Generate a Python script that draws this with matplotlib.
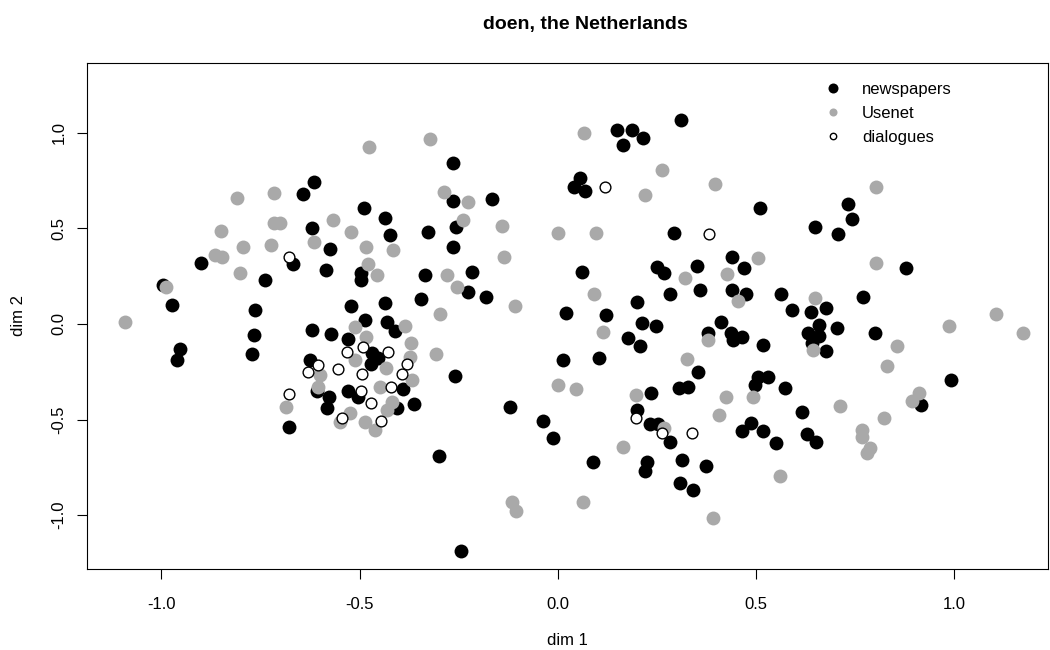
import matplotlib
matplotlib.use("Agg")
import matplotlib.pyplot as plt
from matplotlib.lines import Line2D

plt.rcParams['font.family'] = ['Liberation Sans', 'DejaVu Sans']

# newspapers (black)
news_x = [-0.614, -0.642, -0.621, -0.264, -0.264, -0.166, -0.489, -0.436, -0.257, -0.328,
          -0.423, 0.311, 0.150, 0.188, 0.214, 0.165, 0.056, 0.041, 0.069, 0.510,
          0.293, 0.650, 0.732, 0.742, 0.708, -0.900, -0.669, -0.738, -0.995, -0.974,
          -0.763, -0.621, -0.766, -0.953, -0.961, -0.772, -0.625, -0.608, -0.574, -0.585,
          -0.572, -0.577, -0.265, -0.496, -0.496, -0.335, -0.217, -0.226, -0.182, -0.345,
          -0.436, -0.521, 0.020, -0.486, -0.430, -0.410, -0.530, -0.468, -0.471, -0.453,
          -0.259, 0.013, -0.390, -0.530, -0.503, -0.362, -0.120, -0.406, -0.036, -0.011,
          -0.299, -0.244, -0.678, -0.581, 0.061, 0.250, 0.269, 0.351, 0.439, 0.470,
          0.283, 0.359, 0.439, 0.475, 0.563, 0.590, 0.638, 0.199, 0.121, 0.213,
          0.247, 0.411, 0.380, 0.436, 0.464, 0.443, 0.519, 0.631, 0.641, 0.177,
          0.208, 0.103, 0.353, 0.307, 0.328, 0.498, 0.506, 0.531, 0.573, 0.235,
          0.199, 0.233, 0.254, 0.283, 0.488, 0.464, 0.519, 0.550, 0.616, 0.628,
          0.652, 0.090, 0.225, 0.220, 0.314, 0.373, 0.309, 0.341, 0.879, 0.770,
          0.676, 0.659, 0.659, 0.704, 0.800, 0.677, 0.991, 0.917]
news_y = [0.742, 0.679, 0.503, 0.840, 0.644, 0.653, 0.605, 0.552, 0.505, 0.481,
          0.465, 1.065, 1.014, 1.014, 0.974, 0.936, 0.761, 0.716, 0.697, 0.608,
          0.475, 0.507, 0.627, 0.549, 0.468, 0.320, 0.312, 0.228, 0.203, 0.099,
          0.071, -0.032, -0.058, -0.131, -0.189, -0.159, -0.189, -0.351, 0.392, 0.283,
          -0.054, -0.381, 0.401, 0.265, 0.230, 0.256, 0.270, 0.168, 0.142, 0.130,
          0.111, 0.094, 0.055, 0.019, 0.012, -0.037, -0.081, -0.151, -0.211, -0.180,
          -0.271, -0.189, -0.342, -0.349, -0.381, -0.419, -0.432, -0.441, -0.508, -0.598,
          -0.692, -1.188, -0.541, -0.441, 0.270, 0.299, 0.265, 0.304, 0.351, 0.294,
          0.158, 0.176, 0.176, 0.155, 0.155, 0.071, 0.061, 0.115, 0.047, 0.006,
          -0.009, 0.012, -0.049, -0.049, -0.067, -0.084, -0.110, -0.049, -0.101, -0.072,
          -0.114, -0.177, -0.253, -0.337, -0.328, -0.320, -0.276, -0.279, -0.337, -0.363,
          -0.450, -0.525, -0.525, -0.616, -0.520, -0.560, -0.560, -0.621, -0.462, -0.577,
          -0.619, -0.724, -0.721, -0.768, -0.712, -0.742, -0.834, -0.869, 0.294, 0.142,
          0.082, -0.006, -0.062, -0.020, -0.049, -0.142, -0.293, -0.424]

# Usenet (grey)
usenet_x = [-0.808, -0.717, -0.717, -0.701, -0.850, -0.567, -0.476, -0.321, -0.288, -0.226,
            -0.240, -0.141, -0.521, 0.000, 0.066, 0.262, 0.220, 0.397, 0.096, 0.802,
            -0.795, -0.724, -0.615, -0.865, -0.848, -0.801, -0.989, -1.091, -0.600, -0.604,
            -0.686, -0.484, -0.415, -0.135, -0.478, -0.455, -0.280, -0.253, -0.109, -0.297,
            -0.511, -0.385, -0.484, -0.370, -0.308, -0.373, -0.511, -0.434, -0.367, 0.000,
            0.046, -0.448, -0.419, -0.524, -0.549, -0.486, -0.461, -0.431, -0.116, -0.106,
            0.321, 0.506, 0.426, 0.092, 0.454, 0.650, 0.378, 0.114, 0.325, 0.645,
            0.197, 0.425, 0.492, 0.269, 0.408, 0.164, 0.561, 0.063, 0.392, 0.803,
            0.855, 0.830, 0.987, 1.105, 1.173, 0.911, 0.894, 0.712, 0.824, 0.768,
            0.768, 0.780, 0.788]
usenet_y = [0.658, 0.683, 0.526, 0.526, 0.486, 0.543, 0.927, 0.965, 0.688, 0.636,
            0.543, 0.512, 0.482, 0.473, 0.997, 0.805, 0.673, 0.733, 0.475, 0.714,
            0.401, 0.413, 0.427, 0.360, 0.348, 0.265, 0.191, 0.012, -0.267, -0.328,
            -0.435, 0.401, 0.387, 0.348, 0.313, 0.256, 0.256, 0.191, 0.094, 0.052,
            -0.015, -0.009, -0.070, -0.101, -0.156, -0.172, -0.189, -0.232, -0.293, -0.320,
            -0.339, -0.328, -0.407, -0.468, -0.512, -0.515, -0.555, -0.450, -0.933, -0.979,
            0.238, 0.343, 0.261, 0.158, 0.121, 0.133, -0.084, -0.044, -0.182, -0.134,
            -0.374, -0.381, -0.381, -0.543, -0.476, -0.642, -0.795, -0.930, -1.017, 0.320,
            -0.117, -0.222, -0.009, 0.050, -0.049, -0.361, -0.403, -0.427, -0.491, -0.555,
            -0.590, -0.677, -0.651]

# dialogues (open circles)
dial_x = [0.119, 0.382, -0.677, -0.606, -0.629, -0.677, -0.532, -0.492, -0.427, -0.381,
          -0.555, -0.494, -0.394, -0.421, -0.496, -0.471, -0.545, -0.446, 0.197, 0.262,
          0.338]
dial_y = [0.716, 0.470, 0.351, -0.215, -0.250, -0.367, -0.149, -0.122, -0.149, -0.208,
          -0.237, -0.262, -0.264, -0.332, -0.349, -0.411, -0.491, -0.508, -0.491, -0.572,
          -0.572]

x_ticks = [-1.0, -0.5, 0.0, 0.5, 1.0]
y_ticks = [-1.0, -0.5, 0.0, 0.5, 1.0]
grey = '#a9a9a9'

fig = plt.figure(figsize=(10.5, 6.5), dpi=100)
ax = fig.add_axes([0.0831, 0.1242, 0.9150, 0.7794])

ax.scatter(news_x, news_y, s=100, c='black', linewidths=0, zorder=2)
ax.scatter(usenet_x, usenet_y, s=100, c=grey, linewidths=0, zorder=3)
ax.scatter(dial_x, dial_y, s=60, facecolors='white', edgecolors='black', linewidths=1.0,
           zorder=4)

ax.set_xlim(-1.187, 1.237)
ax.set_ylim(-1.283, 1.366)
ax.set_xticks(x_ticks)
ax.set_yticks(y_ticks)
ax.set_xticklabels(['%.1f' % v for v in x_ticks])
ax.set_yticklabels(['%.1f' % v for v in y_ticks], rotation=90, va='center')
ax.tick_params(direction='out', length=7, width=0.8, labelsize=12, color='black')
ax.tick_params(axis='x', pad=13)
ax.tick_params(axis='y', pad=8)
for sp in ax.spines.values():
    sp.set_linewidth(0.8)

ax.set_xlabel('dim 1', fontsize=12, labelpad=15)
ax.set_ylabel('dim 2', fontsize=12, labelpad=18)
fig.text(585 / 1050, 1 - 25 / 650, 'doen, the Netherlands', fontsize=14, fontweight='bold',
         ha='center', va='center')

handles = [
    Line2D([], [], ls='none', marker='o', ms=7.2, mfc='black', mec='black', mew=0),
    Line2D([], [], ls='none', marker='o', ms=5.8, mfc=grey, mec=grey, mew=0),
    Line2D([], [], ls='none', marker='o', ms=4.6, mfc='white', mec='black', mew=1.0),
]
ax.legend(handles, ['newspapers', 'Usenet', 'dialogues'], loc='upper left',
          bbox_to_anchor=(0.750, 0.991), frameon=False, fontsize=12,
          handlelength=1.2, handletextpad=1.15, labelspacing=0.53)

fig.savefig('out.png', dpi=100)
